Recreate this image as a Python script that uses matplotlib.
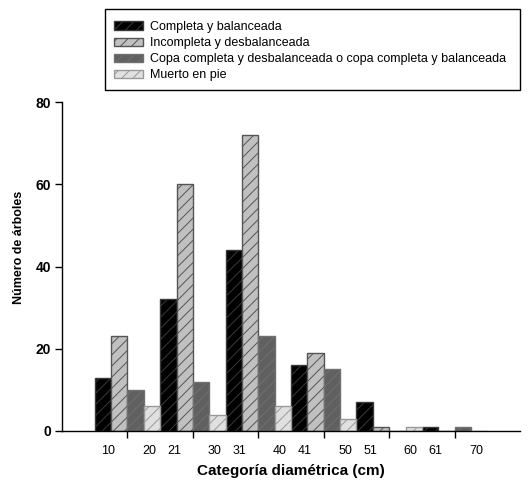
import numpy as np
import matplotlib
matplotlib.use("Agg")
import matplotlib.pyplot as plt
from matplotlib.patches import Rectangle

plt.rcParams["font.family"] = ["Liberation Sans", "DejaVu Sans"]
plt.rcParams["hatch.linewidth"] = 0.7

# ---------------- DATA ----------------
groups = ["10-20", "21-30", "31-40", "41-50", "51-60", "61-70"]
series_names = [
    "Completa y balanceada",
    "Incompleta y desbalanceada",
    "Copa completa y desbalanceada o copa completa y balanceada",
    "Muerto en pie",
]
completa = [13, 32, 44, 16, 7, 1]
incompleta = [23, 60, 72, 19, 1, 0]
copa = [10, 12, 23, 15, 0, 1]
muerto = [6, 4, 6, 3, 1, 0]
tick_labels_lo = ["10", "21", "31", "41", "51", "61"]
tick_labels_hi = ["20", "30", "40", "50", "60", "70"]

# ---------------- STYLE ----------------
faces = ["#000000", "#c0c0c0", "#606060", "#e0e0e0"]
hatch_cols = ["#3a3a3a", "#555555", "#707070", "#999999"]

fig = plt.figure(figsize=(5.28, 4.84), dpi=100)
ax = fig.add_axes([62 / 528, 1 - 431 / 484, 458 / 528, 329 / 484])

x = np.arange(len(groups))
w = 0.25
handles = []
for i, vals in enumerate([completa, incompleta, copa, muerto]):
    b = ax.bar(x + (i - 1.5) * w, vals, w, color=faces[i],
               edgecolor=hatch_cols[i], hatch="///", linewidth=1.0)
    handles.append(b)

ax.set_xlim(-1, 6)
ax.set_ylim(0, 80)

for s in ["top", "right"]:
    ax.spines[s].set_visible(False)
ax.spines["left"].set_linewidth(1.0)
ax.spines["bottom"].set_linewidth(1.0)

ax.set_yticks([0, 20, 40, 60, 80])
ax.tick_params(axis="y", direction="out", length=5, width=1, labelsize=10, pad=3)
for t in ax.get_yticklabels():
    t.set_fontweight("bold")

ax.set_xticks(x)
ax.set_xticklabels([""] * len(x))
ax.tick_params(axis="x", which="major", direction="out", length=5, width=1)
minor_pos = list(x - 0.29) + list(x + 0.33)
ax.set_xticks(minor_pos, minor=True)
ax.set_xticklabels(tick_labels_lo + tick_labels_hi, minor=True)
ax.tick_params(axis="x", which="minor", length=0, labelsize=9, pad=10)

ax.set_xlabel("Categoría diamétrica (cm)", fontsize=11, fontweight="bold", labelpad=5)
ax.set_ylabel("Número de árboles", fontsize=9, fontweight="bold")
ax.yaxis.set_label_coords(-0.081, 0.559)

# legend with plain rectangular frame
fig.patches.append(Rectangle((105 / 528, 1 - 90 / 484), 415 / 528, 81 / 484,
                             transform=fig.transFigure, fill=False,
                             edgecolor="black", linewidth=1.0))
fig.legend(handles, series_names, loc="upper left",
           bbox_to_anchor=(114 / 528, 1 - 21 / 484), frameon=False,
           fontsize=9, handlelength=2.3, handleheight=0.65,
           handletextpad=0.6, labelspacing=0.33, borderaxespad=0, borderpad=0)

fig.savefig("out.png", dpi=100)
